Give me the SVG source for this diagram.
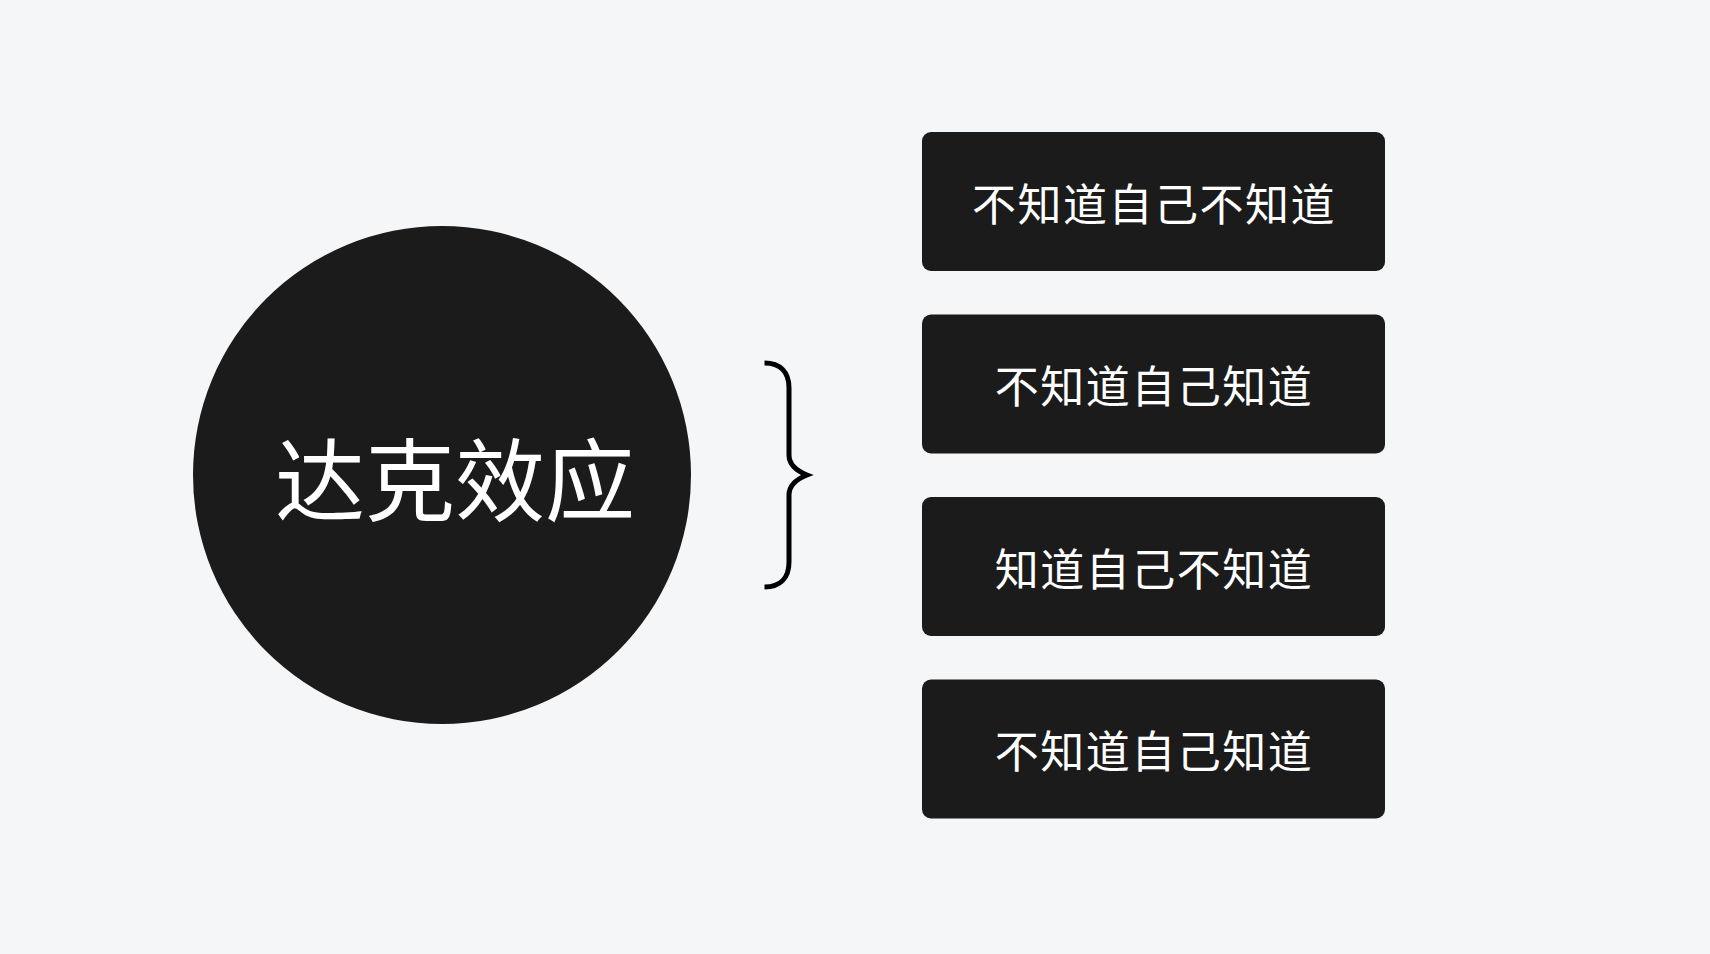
<svg xmlns="http://www.w3.org/2000/svg" width="1710" height="954" viewBox="0 0 1710 954">
<style>
.bg{fill:#f5f6f8}
.dark{fill:#1b1b1b}
.lbl{font-family:"Noto Sans CJK SC","Noto Sans",sans-serif;fill:#ffffff;text-anchor:middle}
.box-t{font-size:44px;letter-spacing:1.5px}
.title{font-size:90px}
.brace{fill:none;stroke:#000000;stroke-width:5;stroke-linecap:butt;stroke-linejoin:miter}
</style>
<rect class="bg" x="0" y="0" width="1710" height="954"/>
<g id="node-center">
<circle class="dark" cx="442" cy="475" r="249"/>
<text class="lbl title" x="455" y="514">达克效应</text>
</g>
<g id="connectors">
<path class="brace" d="M764.5,363 C780,363 789,372 789,388 L789,455 C789,465 797,471 807,475 C797,479 789,485 789,495 L789,562 C789,578 780,587 764.5,587"/>
</g>
<g id="node-1">
<rect class="dark" x="922" y="132" width="463" height="139" rx="9"/>
<text class="lbl box-t" x="1154" y="221">不知道自己不知道</text>
</g>
<g id="node-2">
<rect class="dark" x="922" y="314.5" width="463" height="139" rx="9"/>
<text class="lbl box-t" x="1154" y="403">不知道自己知道</text>
</g>
<g id="node-3">
<rect class="dark" x="922" y="497" width="463" height="139" rx="9"/>
<text class="lbl box-t" x="1154" y="586">知道自己不知道</text>
</g>
<g id="node-4">
<rect class="dark" x="922" y="679.5" width="463" height="139" rx="9"/>
<text class="lbl box-t" x="1154" y="768">不知道自己知道</text>
</g>
</svg>
